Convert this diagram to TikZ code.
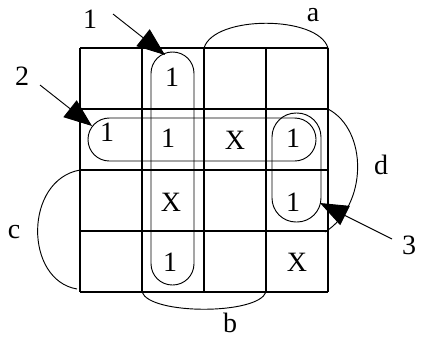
\documentclass[tikz,border=0pt]{standalone}
\usepackage{fontspec}
\setmainfont{Liberation Serif}
\usetikzlibrary{arrows.meta}

\begin{document}
\begin{tikzpicture}[x=0.75pt, y=-0.75pt,
    every node/.style={font=\fontsize{21}{24}\selectfont, inner sep=0pt},
    loop/.style={draw, line width=0.7pt, rounded corners=16pt},
    span/.style={line width=0.7pt},
    pointer/.style={line width=0.7pt, -{Triangle[length=21pt, width=16pt]}}]
    \useasboundingbox (0,0) rectangle (421,337);
    % the map
    \foreach \x in {80,142,204,266,328}
        \draw[line width=1.5pt] (\x,48) -- (\x,292);
    \foreach \y in {48,109,170,231,292}
        \draw[line width=1.5pt] (80,\y) -- (328,\y);
    % cell entries
    \node (m12) at (172,77) {1};
    \node (m21) at (107,132) {1};
    \node (m22) at (168,138) {1};
    \node (m23) at (235,140) {X};
    \node (m24) at (293,138) {1};
    \node (m32) at (171,202) {X};
    \node (m34) at (293,202) {1};
    \node (m42) at (170,262) {1};
    \node (m44) at (297,262) {X};
    % groups
    \draw[loop] (151,52) rectangle (194,285);
    \draw[loop] (88,118) rectangle (316,161);
    \draw[loop, rounded corners=18pt] (272,113) rectangle (321,222);
    % variable spans
    \draw[span] (204,48) .. controls (214,15) and (318,15) .. (328,48);
    \draw[span] (328,109) .. controls (368,130) and (368,205) .. (325,232);
    \draw[span] (80,170) .. controls (24,180) and (24,280) .. (77,289);
    \draw[span] (142,292) .. controls (150,315) and (258,315) .. (266,292);
    \node (la) at (313,15) {a};
    \node (lb) at (230,323) {b};
    \node (lc) at (14,232) {c};
    \node (ld) at (381,165) {d};
    % pointers
    \node (n1) at (90,19) {1};
    \node (n2) at (22,76) {2};
    \node (n3) at (409,245) {3};
    \coordinate (s1) at (113,14);
    \coordinate (e1) at (165,55);
    \coordinate (s2) at (40,85);
    \coordinate (e2) at (92,126);
    \coordinate (s3) at (392,239);
    \coordinate (e3) at (320,203);
    \draw[pointer] (s1) -- (e1);
    \draw[pointer] (s2) -- (e2);
    \draw[pointer] (s3) -- (e3);
\end{tikzpicture}
\end{document}
